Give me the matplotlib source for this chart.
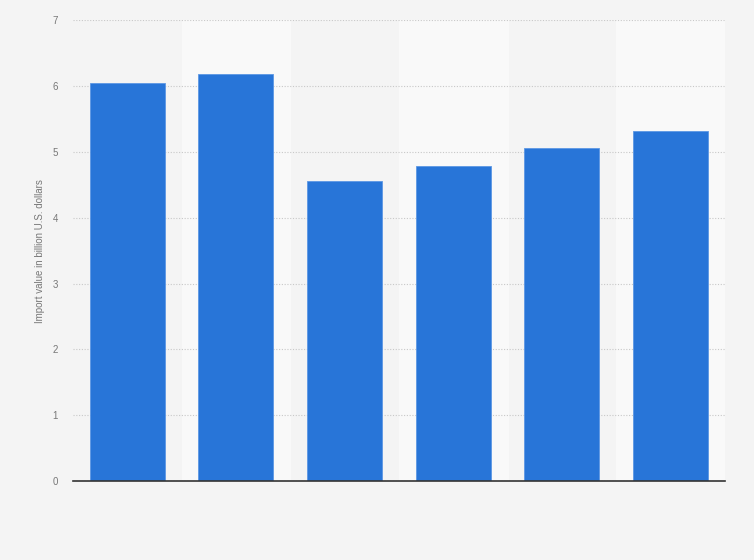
import matplotlib.pyplot as plt

plt.rcParams["font.family"] = ["Liberation Sans", "DejaVu Sans"]

categories = ["1", "2", "3", "4", "5", "6"]
values = [6.04, 6.18, 4.56, 4.78, 5.06, 5.31]
yticks = [0, 1, 2, 3, 4, 5, 6, 7]

fig = plt.figure(figsize=(7.54, 5.6), dpi=100)
fig.patch.set_facecolor("#f4f4f4")
ax = fig.add_axes([0.0968, 0.141, 0.8647, 0.823])
ax.set_facecolor("#f4f4f4")

x = list(range(len(categories)))
# alternating light stripes behind every second column
for i in x:
    if i % 2 == 1:
        ax.axvspan(i - 0.5, i + 0.5, color="#f9f9f9", zorder=0)

ax.bar(x, values, width=0.69, color="#2875d8", edgecolor="#5c97e4", linewidth=0.6, zorder=3)

ax.set_xlim(-0.5, len(categories) - 0.5)
ax.set_ylim(0, 7)
ax.set_yticks(yticks)
ax.set_yticklabels([str(t) for t in yticks], fontsize=7, color="#777777")
ax.set_xticks([])
ax.grid(axis="y", color="#c8c8c8", linestyle=(0, (1, 1.5)), linewidth=0.8, zorder=1)
ax.tick_params(axis="y", length=0, pad=11)

for s in ["top", "right", "left"]:
    ax.spines[s].set_visible(False)
ax.spines["bottom"].set_color("#333333")
ax.spines["bottom"].set_linewidth(1.2)
ax.spines["bottom"].set_zorder(4)

ax.set_ylabel("Import value in billion U.S. dollars", fontsize=7, color="#777777", labelpad=5)

fig.savefig("out.png", dpi=100, facecolor=fig.get_facecolor())
